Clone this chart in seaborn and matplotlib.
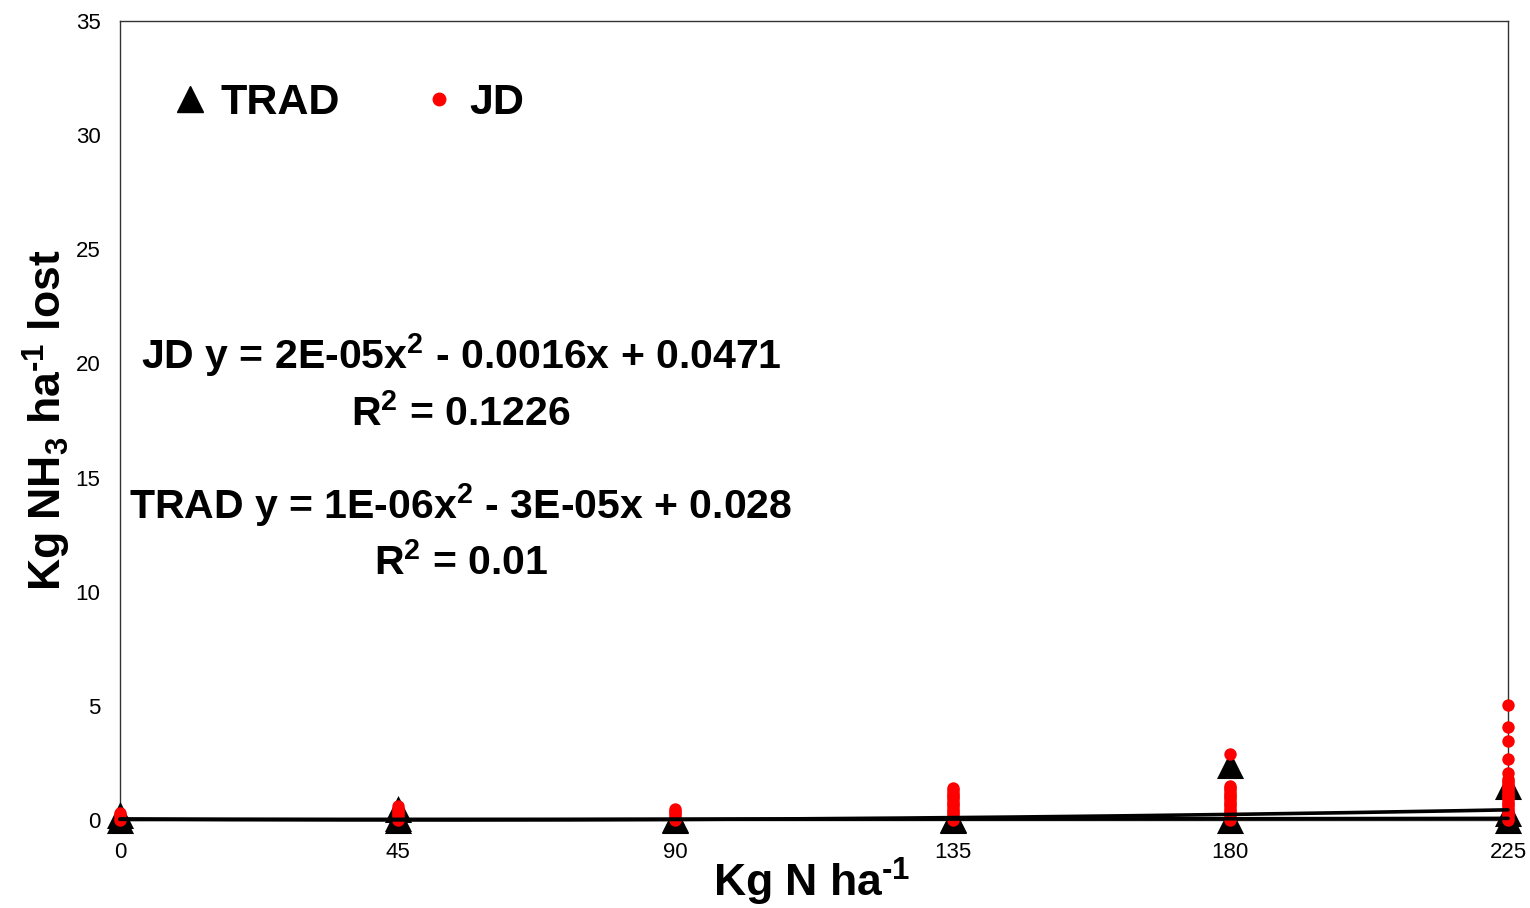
import numpy as np
import pandas as pd
import matplotlib
matplotlib.use("Agg")
import matplotlib.pyplot as plt
from matplotlib.lines import Line2D
import seaborn as sns

# N rates (x) and NH3 losses
doses = [0, 45, 90, 135, 180, 225]

trad_vals = {
    0: [0.0, 0.2],
    45: [0.0, 0.1, 0.5],
    90: [0.0, 0.05],
    135: [0.0, 0.05],
    180: [0.0, 2.4],
    225: [0.0, 0.3, 1.5],
}

jd_vals = {
    0: [0.0, 0.1, 0.2, 0.3],
    45: [0.0, 0.1, 0.2, 0.3, 0.4, 0.5, 0.6],
    90: [0.0, 0.1, 0.2, 0.3, 0.4, 0.5],
    135: [0.0, 0.1, 0.2, 0.3, 0.4, 0.5, 0.6, 0.7, 0.8, 0.9, 1.0, 1.1, 1.2, 1.3, 1.4],
    180: [0.0, 0.1, 0.2, 0.3, 0.4, 0.5, 0.6, 0.7, 0.8, 0.9, 1.0, 1.1, 1.2, 1.3, 1.4, 1.5, 2.9],
    225: [0.0, 0.1, 0.2, 0.3, 0.4, 0.5, 0.6, 0.7, 0.8, 0.9, 1.0, 1.1, 1.2, 1.3, 1.4, 1.5,
          1.6, 1.7, 1.8, 2.06, 2.67, 3.46, 4.07, 5.04],
}

# polynomial trendlines (JD x^2 term estimated from the drawn line)
jd_coef = [1.5e-05, -0.0016, 0.0471]
trad_coef = [1e-06, -3e-05, 0.028]

jd_eq = "JD y = 2E-05x$^2$ - 0.0016x + 0.0471"
jd_r2 = "R$^2$ = 0.1226"
trad_eq = "TRAD y = 1E-06x$^2$ - 3E-05x + 0.028"
trad_r2 = "R$^2$ = 0.01"

trad_df = pd.DataFrame([(d, v) for d in doses for v in trad_vals[d]], columns=["dose", "nh3"])
jd_df = pd.DataFrame([(d, v) for d in doses for v in jd_vals[d]], columns=["dose", "nh3"])

xs = np.linspace(0, 225, 200)
trend_df = pd.DataFrame({
    "dose": np.concatenate([xs, xs]),
    "nh3": np.concatenate([np.polyval(jd_coef, xs), np.polyval(trad_coef, xs)]),
    "group": ["JD"] * len(xs) + ["TRAD"] * len(xs),
})

sns.set_style("white")
plt.rcParams["font.family"] = ["Liberation Sans", "DejaVu Sans"]
plt.rcParams["text.color"] = "black"
plt.rcParams["axes.labelcolor"] = "black"
plt.rcParams["mathtext.fontset"] = "custom"
plt.rcParams["mathtext.bf"] = "Liberation Sans:bold"
plt.rcParams["mathtext.rm"] = "Liberation Sans:bold"
plt.rcParams["mathtext.default"] = "bf"

fig = plt.figure(figsize=(15.3, 9.08), dpi=100)
ax = fig.add_axes([0.0784, 0.0969, 0.9072, 0.88])

sns.scatterplot(data=trad_df, x="dose", y="nh3", marker="^", color="black",
                s=380, linewidth=0, ax=ax, clip_on=False, zorder=3)
sns.scatterplot(data=jd_df, x="dose", y="nh3", marker="o", color="#ff0000",
                s=80, linewidth=0, ax=ax, clip_on=False, zorder=4)
sns.lineplot(data=trend_df, x="dose", y="nh3", units="group", estimator=None,
             color="black", linewidth=2.6, ax=ax, zorder=5, clip_on=False)

ax.set_xlim(0, 225)
ax.set_ylim(0, 35)
ax.set_xticks(doses)
ax.set_yticks(range(0, 36, 5))
ax.tick_params(axis="both", length=0, labelsize=16, colors="black")
ax.tick_params(axis="x", pad=16)
ax.tick_params(axis="y", pad=14)
for sp in ax.spines.values():
    sp.set_visible(True)
    sp.set_color("#333333")
    sp.set_linewidth(1)

ax.set_xlabel(r"Kg N ha$^{\text{-1}}$", fontsize=32, fontweight="bold")
ax.set_ylabel(r"Kg NH$_3$ ha$^{\text{-1}}$ lost", fontsize=32, fontweight="bold")
ax.xaxis.set_label_coords(0.4986, -0.045)
ax.yaxis.set_label_coords(-0.034, 0.5)

txt = dict(transform=ax.transAxes, ha="center", va="center", fontsize=29.5, fontweight="bold")
ax.text(0.2457, 0.582, jd_eq, **txt)
ax.text(0.2457, 0.509, jd_r2, **txt)
ax.text(0.2457, 0.394, trad_eq, **txt)
ax.text(0.2457, 0.322, trad_r2, **txt)

handles = [
    Line2D([], [], marker="^", color="black", linestyle="none", markersize=19),
    Line2D([], [], marker="o", color="#ff0000", linestyle="none", markersize=9),
]
leg = ax.legend(handles, ["TRAD", "JD"], ncol=2, loc="center left",
                bbox_to_anchor=(0.0353, 0.897), frameon=False,
                prop={"size": 31, "weight": "bold"}, handlelength=1,
                handletextpad=0.2, columnspacing=1.8, borderpad=0, borderaxespad=0)

fig.savefig("out.png", dpi=100)
